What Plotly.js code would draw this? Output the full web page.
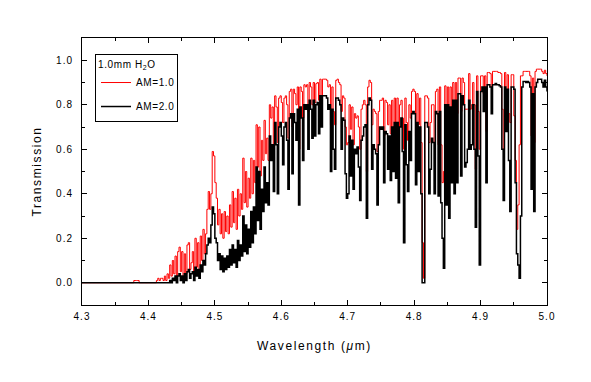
<!DOCTYPE html>
<html>
<head>
<meta charset="utf-8">
<script src="https://cdn.plot.ly/plotly-3.0.1.min.js"></script>
<style>
html,body{margin:0;padding:0;background:#fff;}
#chart .xtick text,#chart .ytick text{letter-spacing:1px;}
#chart .xtitle,#chart .ytitle{letter-spacing:1.6px;}
#chart .legendtext,#chart .legendtitletext{letter-spacing:0.6px;}
</style>
</head>
<body>
<div id="chart" style="width:591px;height:382px;"></div>
<script>
// Wavelength grid (micrometres): first sample and spacing
const wavelengthStart = 4.30;
const wavelengthStep = 0.002;

// Transmission, AM = 1.0 (one value per wavelength sample, 4.300 ... 5.000)
const transAM1 = [
0,0,0,0,0,0,0,0,0,0,
0,0,0,0,0,0,0,0,0,0,
0,0,0,0,0,0,0,0,0,0,
0,0,0,0,0,0,0,0,0,0.01,
0.01,0.01,0.01,0,0,0,0,0,0,0,
0,0,0,0,0,0,0.01,0.02,0.01,0.02,
0.02,0.01,0.03,0.01,0.04,0.02,0.08,0.03,0.10,0.04,
0.12,0.03,0.14,0.16,0.05,0.14,0.02,0.13,0.04,0.17,
0.18,0.06,0.09,0.14,0.03,0.20,0.07,0.18,0.05,0.21,
0.10,0.24,0.13,0.22,0.33,0.41,0.33,0.40,0.59,0.57,
0.45,0.38,0.26,0.33,0.22,0.31,0.20,0.32,0.23,0.30,
0.22,0.35,0.25,0.41,0.27,0.38,0.24,0.42,0.30,0.40,
0.33,0.56,0.36,0.50,0.34,0.47,0.38,0.56,0.40,0.55,
0.45,0.71,0.52,0.70,0.48,0.64,0.55,0.73,0.58,0.65,
0.55,0.80,0.74,0.79,0.62,0.84,0.79,0.63,0.83,0.84,
0.81,0.72,0.83,0.84,0.80,0.65,0.86,0.87,0.70,0.87,
0.85,0.80,0.88,0.60,0.88,0.86,0.74,0.89,0.88,0.89,
0.77,0.90,0.88,0.80,0.90,0.81,0.895,0.90,0.82,0.915,
0.84,0.915,0.915,0.915,0.91,0.88,0.89,0.71,0.88,0.77,
0.71,0.91,0.915,0.90,0.89,0.77,0.84,0.83,0.70,0.62,
0.63,0.80,0.69,0.79,0.62,0.76,0.74,0.75,0.70,0.60,
0.78,0.80,0.82,0.80,0.50,0.88,0.91,0.90,0.71,0.78,
0.77,0.76,0.59,0.77,0.82,0.82,0.83,0.66,0.82,0.81,
0.71,0.80,0.67,0.82,0.70,0.83,0.68,0.83,0.60,0.80,
0.82,0.74,0.60,0.83,0.72,0.64,0.80,0.74,0.86,0.87,
0.86,0.66,0.85,0.71,0.83,0.63,0.18,0.02,0.84,0.84,
0.83,0.63,0.72,0.80,0.80,0.63,0.86,0.87,0.62,0.88,
0.62,0.45,0.50,0.885,0.72,0.88,0.61,0.88,0.75,0.90,
0.74,0.90,0.76,0.92,0.92,0.77,0.92,0.90,0.78,0.78,
0.78,0.94,0.78,0.80,0.90,0.80,0.51,0.93,0.77,0.60,
0.93,0.93,0.85,0.93,0.68,0.945,0.945,0.94,0.88,0.95,
0.95,0.95,0.95,0.945,0.945,0.94,0.78,0.60,0.945,0.84,
0.935,0.76,0.72,0.935,0.935,0.75,0.55,0.24,0.35,0.62,
0.93,0.93,0.95,0.95,0.95,0.95,0.95,0.93,0.66,0.92,
0.63,0.95,0.96,0.96,0.96,0.96,0.95,0.94,0.955,0.94,0.93
];

// Transmission, AM = 2.0
const transAM2 = [
0,0,0,0,0,0,0,0,0,0,
0,0,0,0,0,0,0,0,0,0,
0,0,0,0,0,0,0,0,0,0,
0,0,0,0,0,0,0,0,0,0,
0,0,0,0,0,0,0,0,0,0,
0,0,0,0,0,0,0,0,0,0,
0,0,0,0,0,0,0.01,0,0.02,0.01,
0.03,0.0,0.03,0.04,0.01,0.03,0.0,0.04,0.01,0.05,
0.06,0.02,0.04,0.05,0.01,0.07,0.03,0.06,0.02,0.08,
0.05,0.10,0.08,0.13,0.17,0.20,0.18,0.26,0.34,0.31,
0.20,0.18,0.10,0.13,0.06,0.12,0.05,0.11,0.06,0.12,
0.07,0.15,0.08,0.17,0.09,0.15,0.07,0.19,0.10,0.17,
0.12,0.30,0.14,0.26,0.13,0.24,0.16,0.32,0.18,0.34,
0.22,0.52,0.28,0.50,0.24,0.42,0.32,0.52,0.36,0.45,
0.35,0.66,0.55,0.62,0.41,0.72,0.62,0.40,0.70,0.72,
0.66,0.53,0.70,0.72,0.64,0.42,0.74,0.76,0.49,0.76,
0.72,0.64,0.78,0.35,0.79,0.74,0.55,0.80,0.78,0.80,
0.60,0.82,0.78,0.65,0.82,0.66,0.80,0.81,0.67,0.84,
0.70,0.84,0.84,0.84,0.83,0.78,0.80,0.50,0.78,0.60,
0.51,0.83,0.83,0.82,0.80,0.60,0.74,0.73,0.49,0.38,
0.40,0.66,0.48,0.64,0.42,0.60,0.58,0.61,0.52,0.37,
0.64,0.66,0.70,0.71,0.29,0.80,0.83,0.82,0.51,0.62,
0.60,0.58,0.35,0.62,0.70,0.69,0.70,0.45,0.68,0.67,
0.51,0.66,0.46,0.70,0.50,0.72,0.47,0.72,0.36,0.70,
0.74,0.59,0.18,0.71,0.53,0.41,0.68,0.55,0.76,0.77,
0.76,0.44,0.72,0.50,0.70,0.40,0.0,0.0,0.72,0.72,
0.70,0.40,0.51,0.65,0.63,0.40,0.77,0.76,0.39,0.77,
0.36,0.20,0.065,0.80,0.35,0.80,0.29,0.79,0.45,0.82,
0.40,0.82,0.45,0.85,0.85,0.48,0.84,0.80,0.52,0.54,
0.60,0.82,0.60,0.62,0.80,0.60,0.25,0.86,0.57,0.08,
0.86,0.88,0.77,0.88,0.45,0.89,0.89,0.88,0.76,0.89,
0.89,0.895,0.89,0.89,0.885,0.88,0.60,0.37,0.88,0.68,
0.87,0.55,0.32,0.88,0.88,0.87,0.45,0.13,0.08,0.02,
0.30,0.88,0.905,0.905,0.90,0.905,0.90,0.88,0.42,0.85,
0.32,0.88,0.90,0.915,0.915,0.915,0.90,0.88,0.91,0.88,0.86
];

const seriesNames = ['AM=1.0', 'AM=2.0'];
const legendTitle = '1.0mm H<sub>2</sub>O';
const xTickVals = [4.3, 4.4, 4.5, 4.6, 4.7, 4.8, 4.9, 5.0];
const yTickVals = [0.0, 0.2, 0.4, 0.6, 0.8, 1.0];

const font = 'Liberation Sans, Arial, sans-serif';

const traces = [
  {
    type: 'scatter', mode: 'lines', name: seriesNames[0], legendgroup: 'a',
    x0: wavelengthStart, dx: wavelengthStep, y: transAM1,
    line: {color: '#ff0000', width: 1, shape: 'hv'}
  },
  {
    type: 'scatter', mode: 'lines', name: seriesNames[1], legendgroup: 'b',
    x0: wavelengthStart, dx: wavelengthStep, y: transAM2,
    line: {color: '#000000', width: 1.5, shape: 'hv'}
  }
];

const axisCommon = {
  showgrid: false, zeroline: false, showline: true, linecolor: '#000', linewidth: 1,
  mirror: 'allticks', ticks: 'inside', ticklen: 5, tickwidth: 1, tickcolor: '#000',
  tickfont: {family: font, size: 10, color: '#000'},
  minor: {ticks: 'inside', ticklen: 3, tickwidth: 1, tickcolor: '#000', showgrid: false}
};

const layout = {
  width: 591, height: 382,
  margin: {l: 82, r: 44, t: 38, b: 77},
  paper_bgcolor: '#fff', plot_bgcolor: '#fff',
  font: {family: font, color: '#000'},
  showlegend: true,
  xaxis: Object.assign({}, axisCommon, {
    range: [4.3, 5.0], tickmode: 'array', tickvals: xTickVals, tickformat: '.1f',
    minor: Object.assign({}, axisCommon.minor, {dtick: 0.05, tick0: 4.3}),
    ticklabelstandoff: 2,
    title: {text: 'Wavelength (<i>μ</i>m)', font: {family: font, size: 12, color: '#000'}, standoff: 20}
  }),
  yaxis: Object.assign({}, axisCommon, {
    range: [-0.1, 1.1], tickmode: 'array', tickvals: yTickVals, tickformat: '.1f',
    minor: Object.assign({}, axisCommon.minor, {dtick: 0.1, tick0: 0}),
    ticklabelstandoff: 6,
    title: {text: 'Transmission', font: {family: font, size: 12, color: '#000'}, standoff: 14}
  }),
  legend: {
    x: 0.028, y: 0.94, xanchor: 'left', yanchor: 'top',
    bgcolor: '#fff', bordercolor: '#000', borderwidth: 1,
    font: {family: font, size: 10, color: '#000'},
    title: {text: legendTitle, font: {family: font, size: 10, color: '#000'}},
    tracegroupgap: 5, itemwidth: 30
  }
};

Plotly.newPlot('chart', traces, layout, {displayModeBar: false, staticPlot: true});
</script>
</body>
</html>
